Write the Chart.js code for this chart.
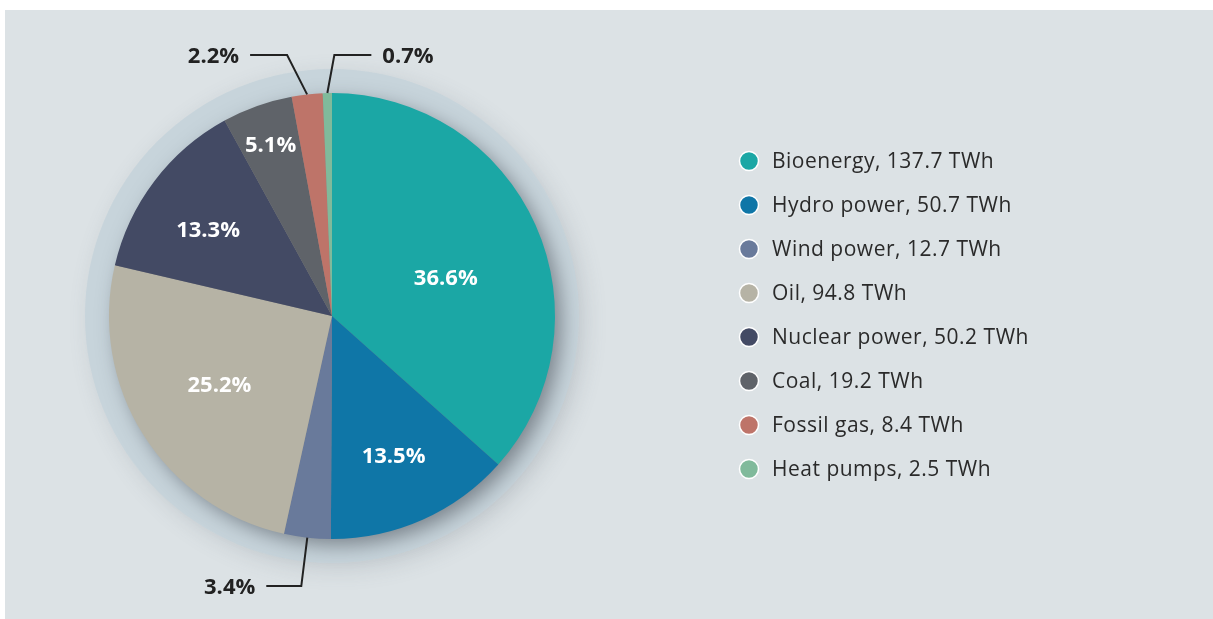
<!DOCTYPE html>
<html>
<head>
<meta charset="utf-8">
<script src="https://cdn.jsdelivr.net/npm/chart.js@4/dist/chart.umd.min.js"></script>
<style>
  html, body { margin: 0; padding: 0; background: #ffffff; }
  #panel { position: absolute; left: 5px; top: 10px; width: 1208px; height: 609px; background: #dce2e5; }
  #energyPie { position: absolute; left: 0; top: 0; }
</style>
</head>
<body>
<div id="panel"></div>
<canvas id="energyPie" width="1213" height="619"></canvas>
<script>
    var categories = ['Bioenergy', 'Hydro power', 'Wind power', 'Oil', 'Nuclear power', 'Coal', 'Fossil gas', 'Heat pumps'];
    var twh = [137.7, 50.7, 12.7, 94.8, 50.2, 19.2, 8.4, 2.5];
    var shares = ['36.6%', '13.5%', '3.4%', '25.2%', '13.3%', '5.1%', '2.2%', '0.7%'];
    var colors = ['#1ba7a5', '#0f76a7', '#697a9b', '#b6b3a5', '#434a64', '#5f6369', '#be7469', '#80ba9b'];

    var FONT = '"Open Sans", "DejaVu Sans", sans-serif';

    // inside labels: fraction of radius (null = outside with leader line) and small angle nudge in degrees
    var insideRadius = [0.54, 0.68, null, 0.59, 0.68, 0.82, null, null];
    var angleNudge = [5, 0, 0, 1, -2, 0, 0, 0];
    // leader lines: elbow offset from slice edge, then horizontal run
    var leaders = {
        6: { dx: -20, y: -261, run: -37, align: 'right' },
        7: { dx: 7, y: -261, run: 37, align: 'left' },
        2: { dx: -6, y: 270, run: -35, align: 'right' }
    };

    var ringPlugin = {
        id: 'ring',
        beforeDatasetsDraw: function (chart) {
            var arc = chart.getDatasetMeta(0).data[0];
            var p = arc.getProps(['x', 'y', 'outerRadius'], true);
            var ctx = chart.ctx;
            ctx.save();
            ctx.shadowColor = 'rgba(90, 100, 110, 0.18)';
            ctx.shadowBlur = 22;
            ctx.shadowOffsetX = 6;
            ctx.shadowOffsetY = 6;
            ctx.beginPath();
            ctx.arc(p.x, p.y, p.outerRadius + 24, 0, Math.PI * 2);
            ctx.fillStyle = '#c7d4db';
            ctx.fill();
            ctx.restore();
            ctx.save();
            ctx.shadowColor = 'rgba(60, 66, 74, 0.55)';
            ctx.shadowBlur = 20;
            ctx.shadowOffsetX = 7;
            ctx.shadowOffsetY = 7;
            ctx.beginPath();
            ctx.arc(p.x, p.y, p.outerRadius - 1, 0, Math.PI * 2);
            ctx.fillStyle = '#888888';
            ctx.fill();
            ctx.restore();
        }
    };

    var labelPlugin = {
        id: 'sliceLabels',
        afterDatasetsDraw: function (chart) {
            var ctx = chart.ctx;
            var arcs = chart.getDatasetMeta(0).data;
            ctx.save();
            ctx.font = 'bold 22px ' + FONT;
            ctx.textBaseline = 'middle';
            arcs.forEach(function (arc, i) {
                var p = arc.getProps(['x', 'y', 'startAngle', 'endAngle', 'outerRadius'], true);
                var mid = (p.startAngle + p.endAngle) / 2;
                if (insideRadius[i] !== null) {
                    var a = mid + angleNudge[i] * Math.PI / 180;
                    var r = p.outerRadius * insideRadius[i];
                    ctx.fillStyle = '#ffffff';
                    ctx.textAlign = 'center';
                    ctx.fillText(shares[i], p.x + Math.cos(a) * r, p.y + Math.sin(a) * r + 2);
                } else {
                    var L = leaders[i];
                    var sx = p.x + Math.cos(mid) * p.outerRadius;
                    var sy = p.y + Math.sin(mid) * p.outerRadius;
                    var ex = sx + L.dx, ey = p.y + L.y;
                    ctx.strokeStyle = '#222222';
                    ctx.lineWidth = 2;
                    ctx.beginPath();
                    ctx.moveTo(sx, sy);
                    ctx.lineTo(ex, ey);
                    ctx.lineTo(ex + L.run, ey);
                    ctx.stroke();
                    ctx.fillStyle = '#222222';
                    ctx.textAlign = L.align;
                    ctx.fillText(shares[i], ex + L.run + (L.run < 0 ? -11 : 11), ey + 2);
                }
            });
            ctx.restore();
        }
    };

    var legendPlugin = {
        id: 'sideLegend',
        afterDraw: function (chart) {
            var ctx = chart.ctx;
            ctx.save();
            categories.forEach(function (name, i) {
                var y = 161 + i * 44;
                ctx.beginPath();
                ctx.arc(749, y, 9.5, 0, Math.PI * 2);
                ctx.fillStyle = colors[i];
                ctx.fill();
                ctx.lineWidth = 1.5;
                ctx.strokeStyle = '#ffffff';
                ctx.stroke();
                ctx.fillStyle = '#2a2a2a';
                ctx.font = '21px ' + FONT;
                ctx.letterSpacing = '0.5px';
                ctx.textAlign = 'left';
                ctx.textBaseline = 'middle';
                ctx.fillText(name + ', ' + twh[i] + ' TWh', 772, y + 1);
            });
            ctx.restore();
        }
    };

    var ctx = document.getElementById('energyPie').getContext('2d');
    var energyPie = new Chart(ctx, {
        type: 'pie',
        data: {
            labels: categories,
            datasets: [{
                data: twh,
                backgroundColor: colors,
                borderWidth: 0,
                hoverOffset: 0,
                offset: 0
            }]
        },
        options: {
            responsive: false,
            animation: false,
            layout: {
                padding: { left: 109, right: 658, top: 93, bottom: 80 }
            },
            plugins: {
                legend: { display: false },
                tooltip: { enabled: false }
            }
        },
        plugins: [ringPlugin, labelPlugin, legendPlugin]
    });
</script>
</body>
</html>
